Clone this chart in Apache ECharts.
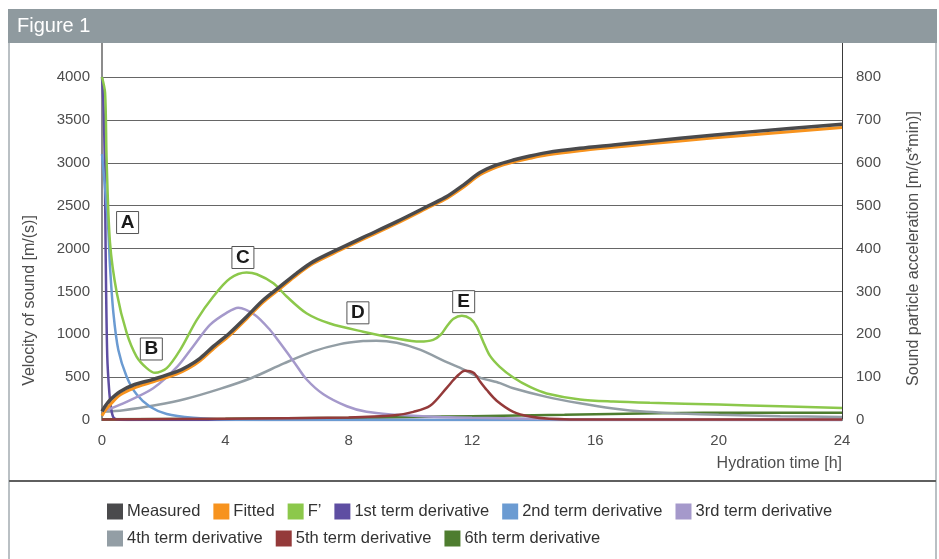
<!DOCTYPE html>
<html>
<head>
<meta charset="utf-8">
<script src="https://cdn.jsdelivr.net/npm/echarts@6/dist/echarts.min.js"></script>
<style>
  html, body { margin: 0; padding: 0; background: #ffffff; }
  #chart { width: 939px; height: 559px; }
</style>
</head>
<body>
<div id="chart"></div>
<script>
// Hydration time [h] vs. velocity of sound [m/(s)] (left axis)
const measured = [[0,100],[0.1,160],[0.26,233],[0.58,330],[1.02,408],[1.66,474],[2.42,563],[2.8,630],[3.18,719],[3.6,855],[4.15,1018],[4.69,1205],[5.23,1400],[5.77,1555],[6.31,1710],[6.85,1847],[7.72,2002],[8.47,2130],[9.56,2313],[10.64,2507],[11.18,2605],[11.72,2740],[12.26,2885],[12.8,2974],[13.34,3032],[13.88,3079],[14.42,3118],[15.5,3168],[16.58,3207],[17.66,3246],[18.75,3285],[21,3360],[24,3450]];
const fitted = [[0,50],[0.1,110],[0.26,175],[0.58,290],[1.02,370],[1.66,445],[2.42,535],[2.8,600],[3.18,690],[3.6,825],[4.15,990],[4.69,1180],[5.23,1375],[5.77,1530],[6.31,1688],[6.85,1825],[7.72,1980],[8.47,2108],[9.56,2292],[10.64,2487],[11.18,2585],[11.72,2715],[12.26,2860],[12.8,2950],[13.34,3008],[13.88,3052],[14.42,3090],[15.5,3140],[16.58,3180],[17.66,3218],[18.75,3255],[21,3325],[24,3410]];

// Sound particle acceleration [m/(s*min)] (right axis)
const fPrime = [[0,800],[0.1,763],[0.15,606],[0.26,413],[0.48,296],[0.8,203],[1.12,148],[1.45,121],[1.72,110],[2.1,121],[2.53,163],[3.07,233],[3.61,288],[4.15,330],[4.69,344],[5.02,340],[5.56,319],[5.99,288],[6.63,249],[7.39,225],[8.47,206],[9.56,190],[10.31,183],[10.74,187],[11.0,200],[11.18,218],[11.4,236],[11.67,243],[11.95,236],[12.15,218],[12.35,185],[12.58,150],[12.9,124],[13.34,99],[13.88,77],[14.42,62],[15.5,48],[16.58,43],[17.77,40],[20,36],[22,32],[24,28]];
const term1 = [[0,800],[0.05,730],[0.09,600],[0.12,380],[0.17,150],[0.24,62],[0.3,25],[0.37,6],[0.5,1],[1,0],[24,0]];
const term2 = [[0,620],[0.1,540],[0.2,451],[0.26,358],[0.37,249],[0.53,163],[0.8,101],[1.12,60],[1.56,31],[2.1,14],[2.96,5],[4,1],[6,0],[24,0]];
const term3 = [[0,19],[0.69,39],[1.66,74],[2.45,125],[2.96,172],[3.5,222],[4.04,250],[4.42,262],[4.96,245],[5.45,210],[5.77,180],[6.26,132],[6.63,95],[7.18,60],[7.94,32],[8.58,19],[9.56,12],[10.1,10],[11,7],[12,5],[14,3],[16,1],[24,0]];
const term4 = [[0,19],[0.7,23],[1.77,35],[2.7,49],[3.8,72],[4.85,98],[5.9,132],[6.85,160],[7.72,177],[8.47,184],[8.9,185],[9.56,180],[10.31,164],[11.18,135],[11.72,118],[12.26,99],[12.91,86],[13.34,74],[14.42,54],[15.5,39],[16.58,27],[17.66,19],[18.75,15],[20,12],[22,9],[24,7]];
const term5 = [[0,1],[4,3],[8,6],[9.5,11],[10.1,19],[10.64,33],[11.18,75],[11.5,101],[11.77,115],[12.05,110],[12.26,90],[12.48,70],[12.8,45],[13.34,19],[13.88,8],[14.5,3],[16,1],[24,1]];
const term6 = [[0,2],[4,3],[8,5],[10,7],[12,9],[15,12],[18,16],[21,17],[24,17]];

// Boxed markers: letter, time [h], velocity [m/(s)]
const tagNames = ['A', 'B', 'C', 'D', 'E'];
const tagTimes = [0.83, 1.6, 4.57, 8.3, 11.73];
const tagLevels = [2303, 828, 1895, 1250, 1380];

const xTicks = { min: 0, max: 24, step: 4 };
const leftTicks = { min: 0, max: 4000, step: 500 };
const rightTicks = { min: 0, max: 800, step: 100 };

const FONT = '"Liberation Sans", Arial, Helvetica, sans-serif';
const TEXT = '#4d4d4d';

const names = ['Measured', 'Fitted', 'F\u2019', '1st term derivative', '2nd term derivative',
  '3rd term derivative', '4th term derivative', '5th term derivative', '6th term derivative'];
const colors = ['#4a4a4c', '#f7931e', '#8cc84b', '#5e4ea2', '#6b9bd2', '#a599cb', '#939ea5', '#943a3a', '#4e7d2f'];
const seriesData = [measured, fitted, fPrime, term1, term2, term3, term4, term5, term6];
const axisIdx = [0, 0, 1, 1, 1, 1, 1, 1, 1];
const widths = [3.5, 3, 2.5, 2.5, 2.5, 2.5, 2.5, 2.5, 2.5];
const zs = [9, 8, 6, 5, 5, 5, 4, 5, 3];

const plain = v => String(v);

const series = names.map((n, i) => ({
  name: n,
  type: 'line',
  yAxisIndex: axisIdx[i],
  data: seriesData[i],
  showSymbol: false,
  smooth: 0.3,
  color: colors[i],
  lineStyle: { width: widths[i], color: colors[i] },
  z: zs[i]
}));

series[0].markPoint = {
  symbol: 'rect',
  symbolSize: 22,
  silent: true,
  itemStyle: { color: '#ffffff', borderColor: '#555555', borderWidth: 1 },
  label: { show: true, position: 'inside', formatter: '{b}', color: '#1a1a1a', fontSize: 19, fontWeight: 'bold', fontFamily: FONT },
  data: tagNames.map((t, i) => ({ name: t, coord: [tagTimes[i], tagLevels[i]] }))
};

const chart = echarts.init(document.getElementById('chart'), null, { renderer: 'canvas' });

const legendCommon = {
  icon: 'rect',
  itemWidth: 16,
  itemHeight: 16,
  itemGap: 13,
  left: 102,
  textStyle: { fontSize: 16.5, color: '#333333', fontFamily: FONT, padding: [0, 0, 0, -1] }
};

chart.setOption({
  animation: false,
  backgroundColor: '#ffffff',
  textStyle: { fontFamily: FONT },
  grid: { left: 102, right: 97, top: 77, bottom: 139, containLabel: false },
  legend: [
    Object.assign({ top: 498, data: names.slice(0, 6) }, legendCommon),
    Object.assign({ top: 525, data: names.slice(6) }, legendCommon)
  ],
  xAxis: {
    type: 'value',
    min: xTicks.min, max: xTicks.max, interval: xTicks.step,
    name: 'Hydration time [h]',
    nameLocation: 'end',
    nameGap: 0,
    nameTextStyle: { fontSize: 16, color: TEXT, align: 'right', verticalAlign: 'top', padding: [36, 0, 0, 0] },
    axisLine: { show: true, lineStyle: { color: '#8c8c8c', width: 2 } },
    axisTick: { show: false },
    splitLine: { show: false },
    axisLabel: { fontSize: 15, color: TEXT, margin: 13, formatter: plain }
  },
  yAxis: [
    {
      type: 'value',
      min: leftTicks.min, max: leftTicks.max, interval: leftTicks.step,
      name: 'Velocity of sound [m/(s)]',
      nameLocation: 'middle',
      nameGap: 64,
      nameTextStyle: { fontSize: 16, color: TEXT, padding: [0, 104, 0, 0] },
      axisLine: { show: true, lineStyle: { color: '#8c8c8c', width: 2 } },
      axisTick: { show: false },
      splitLine: { show: true, lineStyle: { color: '#666666', width: 1 } },
      axisLabel: { fontSize: 15, color: TEXT, margin: 12, formatter: plain }
    },
    {
      type: 'value',
      min: rightTicks.min, max: rightTicks.max, interval: rightTicks.step,
      name: 'Sound particle acceleration [m/(s*min)]',
      nameLocation: 'middle',
      nameGap: 64,
      nameTextStyle: { fontSize: 16, color: TEXT },
      axisLine: { show: true, lineStyle: { color: '#3a3a3a', width: 1 } },
      axisTick: { show: false },
      splitLine: { show: false },
      axisLabel: { fontSize: 15, color: TEXT, margin: 14, formatter: plain }
    }
  ],
  graphic: [
    // frame sides and legend separator
    { type: 'line', shape: { x1: 9, y1: 43, x2: 9, y2: 559 }, style: { stroke: '#a3abb0', lineWidth: 1.5 }, z: 1 },
    { type: 'line', shape: { x1: 936, y1: 43, x2: 936, y2: 559 }, style: { stroke: '#a3abb0', lineWidth: 1.5 }, z: 1 },
    { type: 'line', shape: { x1: 9, y1: 481, x2: 936, y2: 481 }, style: { stroke: '#5f5f5f', lineWidth: 2 }, z: 1 },
    // axis lines running up to the title bar
    { type: 'line', shape: { x1: 102, y1: 43, x2: 102, y2: 78 }, style: { stroke: '#8c8c8c', lineWidth: 2 }, z: 1 },
    { type: 'line', shape: { x1: 842.5, y1: 43, x2: 842.5, y2: 78 }, style: { stroke: '#3a3a3a', lineWidth: 1 }, z: 1 },
    // title bar
    { type: 'rect', shape: { x: 8, y: 9, width: 929, height: 34 }, style: { fill: '#8f9a9f' }, z: 10 },
    { type: 'text', x: 17, y: 26, style: { text: 'Figure 1', fill: '#ffffff', font: '20px ' + FONT, textVerticalAlign: 'middle' }, z: 11 }
  ],
  series: series
});
</script>
</body>
</html>
